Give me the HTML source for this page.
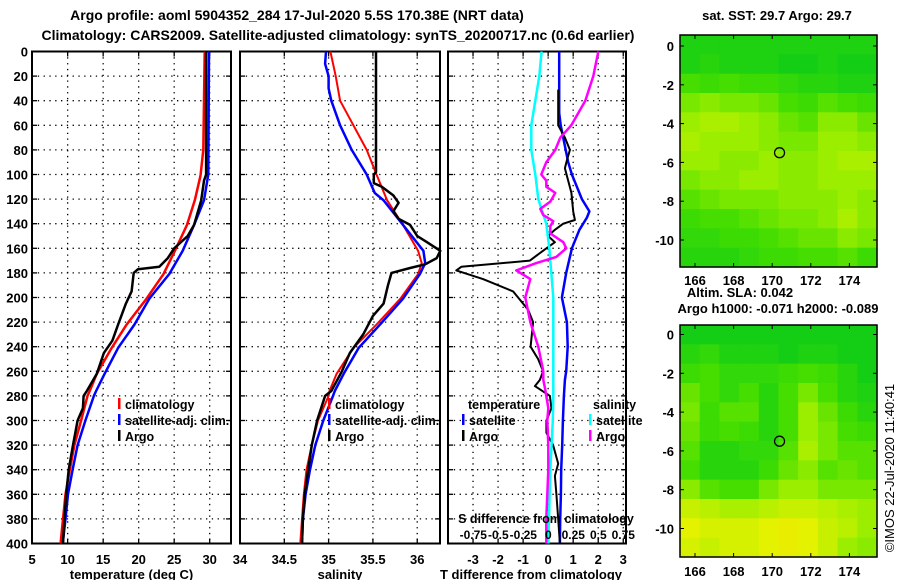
<!DOCTYPE html>
<html><head><meta charset="utf-8"><style>
html,body{margin:0;padding:0;background:#fff;}
svg{display:block;font-family:"Liberation Sans",sans-serif;font-weight:bold;font-size:13px;}
.lg{font-size:12.5px;}
</style></head><body>
<svg id="fig" width="900" height="580" viewBox="0 0 900 580">
<text x="297" y="20" text-anchor="middle" font-size="14">Argo profile: aoml 5904352_284 17-Jul-2020 5.5S 170.38E (NRT data)</text>
<text x="338" y="40" text-anchor="middle" font-size="14">Climatology: CARS2009. Satellite-adjusted climatology: synTS_20200717.nc (0.6d earlier)</text>
<text x="777" y="20" text-anchor="middle">sat. SST: 29.7 Argo: 29.7</text>
<text x="740" y="297" text-anchor="middle">Altim. SLA: 0.042</text>
<text x="778" y="313" text-anchor="middle">Argo h1000: -0.071 h2000: -0.089</text>
<text transform="translate(894,468) rotate(-90)" text-anchor="middle" font-weight="normal" font-size="13">©IMOS 22-Jul-2020 11:40:41</text>
<g id="layer"></g>
</svg>
<script>
// ---- depth axis
const depthTicks = [0,20,40,60,80,100,120,140,160,180,200,220,240,260,280,300,320,340,360,380,400];
// ---- temperature profiles (depth, value)
const tClimDepth = [0,80,101,121,141,162,181,201,222,241,262,276,280,300,320,340,360,380,400];
const tClimVal   = [29.3,29.1,28.7,27.9,26.8,25.1,23.5,21.1,18.3,16.2,14.1,13.1,12.8,11.9,10.95,10.3,9.7,9.35,9.0];
const tSatDepth  = [0,100,121,141,162,181,201,222,241,262,276,280,300,320,340,360,380,400];
const tSatVal    = [29.9,29.8,29.2,27.8,26.2,24.3,21.5,19.4,17.1,15.2,14.0,13.7,12.5,11.4,10.7,10.05,9.7,9.3];
const tArgoDepth = [0,100,105,121,141,150,160,168,175,177,180,195,205,222,235,245,262,276,280,290,300,320,340,360,380,400];
const tArgoVal   = [29.5,29.5,29.2,28.8,27.8,26.9,25.0,24.1,22.9,19.9,19.3,19.0,18.2,17.1,16.3,15.1,14.1,12.7,12.25,12.15,11.4,10.75,10.15,9.8,9.55,9.35];
const tTicks = [5,10,15,20,25,30];
// ---- salinity profiles
const sClimDepth = [0,20,40,60,80,100,121,141,162,172,181,201,222,241,262,276,280,300,320,340,360,380,400];
const sClimVal   = [35.02,35.08,35.13,35.28,35.43,35.54,35.66,35.84,36.01,36.05,36.01,35.81,35.54,35.28,35.09,35.01,35.0,34.88,34.81,34.75,34.72,34.70,34.68];
const sSatDepth  = [0,10,20,30,40,60,80,100,115,121,141,162,172,181,201,222,241,262,276,280,300,320,340,360,380,400];
const sSatVal    = [34.97,34.96,35.0,35.0,35.03,35.13,35.26,35.43,35.52,35.62,35.84,36.07,36.09,36.03,35.84,35.58,35.34,35.17,35.07,35.05,34.94,34.85,34.79,34.74,34.71,34.70];
const sArgoDepth = [0,98,100,107,110,117,123,130,136,141,150,155,162,168,173,176,180,190,205,215,230,245,260,276,280,300,320,340,360,380,400];
const sArgoVal   = [35.535,35.535,35.51,35.51,35.6,35.73,35.79,35.73,35.79,35.92,36.0,36.11,36.26,36.22,36.09,35.92,35.71,35.67,35.62,35.5,35.39,35.24,35.15,35.03,34.96,34.87,34.81,34.77,34.73,34.71,34.70];
const sTicks = [34,34.5,35,35.5,36];
// ---- difference panel
const dTSatDepth = [0,50,60,70,80,90,100,110,120,130,135,145,160,180,200,220,240,260,267,280,300,320,340,360,380,400];
const dTSatVal   = [0.44,0.44,0.5,0.6,0.7,0.8,0.95,1.15,1.35,1.65,1.55,1.25,0.95,0.72,0.55,0.75,0.78,0.72,0.67,0.63,0.59,0.56,0.52,0.51,0.48,0.47];
const dTArgoDepth = [31,60,70,80,90,95,105,115,130,137,140,145,150,155,160,165,170,175,178,185,195,200,210,220,240,250,260,267,272,280,290,300,310,320,335,345,360,380,400];
const dTArgoVal   = [0.4,0.4,0.67,0.87,0.73,0.67,0.8,0.93,1.0,1.07,0.6,0.27,0.0,0.27,-0.07,-0.4,-0.73,-3.47,-3.67,-2.6,-1.4,-1.2,-0.8,-0.6,-0.7,-0.4,-0.2,-0.33,-0.53,0.07,0.13,-0.07,-0.07,0.2,0.4,0.27,0.33,0.4,0.47];
const dSSatDepth = [0,20,40,60,80,100,120,140,160,180,200,267,280,300,340,400];
const dSSatVal   = [-0.067,-0.09,-0.13,-0.17,-0.17,-0.13,-0.1,-0.02,0.01,0.03,0.05,0.05,0.05,0.045,0.02,0.0];
const dSArgoDepth = [0,20,40,60,70,80,90,100,105,110,115,122,128,133,138,142,148,155,160,167,172,178,185,200,220,240,260,267,275,290,300,320,340,360,380,400];
const dSArgoVal   = [0.5,0.45,0.37,0.23,0.12,0.07,-0.02,-0.07,-0.02,-0.02,0.07,0.02,-0.08,-0.05,0.05,0.02,0.02,0.15,0.18,0.08,-0.12,-0.32,-0.18,-0.23,-0.18,-0.1,-0.05,-0.05,-0.03,0.0,-0.01,0.0,0.0,-0.01,-0.02,-0.02];
const dTTicks = [-3,-2,-1,0,1,2,3];
const dSTicks = [-0.75,-0.5,-0.25,0,0.25,0.5,0.75];
const dSTickLabels = ["-0.75","-0.5","-0.25","0","0.25","0.5","0.75"];
// ---- maps
const lonTicks = [166,168,170,172,174];
const latTicks = [0,-2,-4,-6,-8,-10];
const argoLon = [170.38];
const argoLat = [-5.5];
const sstGrid = [
[.15,.15,.15,.15,.15,.15,.15,.15,.15,.15],
[.15,.2,.15,.15,.15,.1,.1,.15,.1,.1],
[.35,.3,.35,.3,.3,.25,.2,.2,.15,.15],
[.5,.55,.5,.5,.45,.35,.3,.4,.35,.3],
[.6,.65,.65,.6,.55,.45,.4,.55,.55,.45],
[.65,.6,.6,.6,.55,.5,.5,.6,.6,.55],
[.6,.6,.55,.55,.6,.55,.55,.6,.65,.65],
[.5,.55,.55,.6,.6,.55,.55,.6,.6,.6],
[.4,.45,.5,.5,.5,.55,.55,.55,.6,.55],
[.3,.35,.35,.4,.45,.5,.5,.55,.65,.55],
[.25,.25,.3,.3,.35,.4,.45,.45,.55,.5],
[.2,.2,.2,.25,.3,.3,.35,.35,.4,.3]];
const slaGrid = [
[.1,.1,.1,.1,.1,.1,.1,.1,.1,.1],
[.2,.25,.15,.15,.15,.1,.15,.15,.1,.1],
[.3,.35,.25,.25,.25,.3,.35,.3,.2,.1],
[.45,.35,.25,.35,.2,.35,.5,.35,.2,.15],
[.5,.3,.4,.4,.2,.35,.6,.45,.3,.2],
[.45,.3,.35,.3,.2,.35,.6,.5,.35,.3],
[.4,.2,.2,.25,.25,.4,.65,.5,.4,.4],
[.35,.2,.2,.2,.3,.45,.55,.4,.45,.4],
[.55,.4,.35,.35,.5,.6,.6,.5,.5,.5],
[.75,.7,.65,.65,.7,.75,.75,.7,.65,.6],
[.85,.8,.8,.8,.85,.9,.85,.75,.7,.6],
[.8,.75,.8,.8,.85,.9,.85,.75,.6,.55]];

const NS='http://www.w3.org/2000/svg';
const layer=document.getElementById('layer');
function mk(tag,attrs,parent){const e=document.createElementNS(NS,tag);for(const k in attrs)e.setAttribute(k,attrs[k]);(parent||layer).appendChild(e);return e;}
function txt(x,y,s,anchor,parent){const t=mk('text',{x:x,y:y,'text-anchor':anchor||'middle'},parent);t.textContent=s;return t;}

const PY0=51.5, PY1=543.5;
const yD=d=>PY0+(PY1-PY0)*d/400;

function panel(name,x0,x1,vmin,vmax,xticks,xlabels,title,yLabels){
  const g=mk('g',{});
  
  
  const xs=v=>x0+(x1-x0)*(v-vmin)/(vmax-vmin);
  depthTicks.forEach(d=>{
    if(d>0&&d<400){const l=mk('line',{x1:x0,x2:x1,y1:yD(d),y2:yD(d),stroke:'#000','stroke-dasharray':'1.3,4.5','stroke-width':1.3},g);
    
    }
    mk('line',{x1:x0,x2:x0+5,y1:yD(d),y2:yD(d),stroke:'#000','stroke-width':1.3},g);
    mk('line',{x1:x1-5,x2:x1,y1:yD(d),y2:yD(d),stroke:'#000','stroke-width':1.3},g);
    if(yLabels){const t=txt(x0-4,yD(d)+5,String(d),'end',g);
    
    }
  });
  xticks.forEach((v,i)=>{
    const x=xs(v);
    if(x>x0+1&&x<x1-1){const l=mk('line',{x1:x,x2:x,y1:PY0,y2:PY1,stroke:'#000','stroke-dasharray':'1.3,4.5','stroke-width':1.3},g);
    
    }
    mk('line',{x1:x,x2:x,y1:PY1-5,y2:PY1,stroke:'#000','stroke-width':1.3},g);
    mk('line',{x1:x,x2:x,y1:PY0,y2:PY0+5,stroke:'#000','stroke-width':1.3},g);
    const t=txt(x,564,xlabels[i],'middle',g);
    
    
  });
  const b=mk('rect',{x:x0,y:PY0,width:x1-x0,height:PY1-PY0,fill:'none',stroke:'#000','stroke-width':2},g);
  
  
  const tt=txt((x0+x1)/2-(name==='difference-panel'?6:0),579,title,'middle',g);
  
  
  return xs;
}
function line(xs,dep,val,color,w,name){
  const pts=dep.map((d,i)=>xs(val[i]).toFixed(1)+','+yD(d).toFixed(1)).join(' ');
  const p=mk('polyline',{points:pts,fill:'none',stroke:color,'stroke-width':w,'stroke-linejoin':'round'});
  
  
}
function legendEntry(x,y,color,label){
  const g=mk('g',{class:'lg'});
  
  
  mk('rect',{x:x,y:y-11,width:2.5,height:11,fill:color},g);
  txt(x+7,y,label,'start',g);
}

// Panel 1: temperature
const xT=panel('temperature-panel',32,231,4.98,33.0,tTicks,tTicks.map(String),'temperature (deg C)',true);
line(xT,tClimDepth,tClimVal,'#ff0000',2.5,'temperature-climatology-line');
line(xT,tSatDepth,tSatVal,'#0000ff',2.5,'temperature-satellite-line');
line(xT,tArgoDepth,tArgoVal,'#000',2.5,'temperature-argo-line');
legendEntry(118,409,'#ff0000','climatology');
legendEntry(118,425,'#0000ff','satellite-adj. clim.');
legendEntry(118,441,'#000','Argo');

// Panel 2: salinity
const xS=panel('salinity-panel',240,440,34,36.257,sTicks,["34","34.5","35","35.5","36"],'salinity',false);
line(xS,sClimDepth,sClimVal,'#ff0000',2,'salinity-climatology-line');
line(xS,sSatDepth,sSatVal,'#0000ff',2.5,'salinity-satellite-line');
line(xS,sArgoDepth,sArgoVal,'#000',2.5,'salinity-argo-line');
legendEntry(328,409,'#ff0000','climatology');
legendEntry(328,425,'#0000ff','satellite-adj. clim.');
legendEntry(328,441,'#000','Argo');

// Panel 3: differences
const xDT=panel('difference-panel',448,626,-4.0,3.11,dTTicks,dTTicks.map(String),'T difference from climatology',false);
const xDS=v=>548.3+100*v;
line(xDT,dTSatDepth,dTSatVal,'#0000ff',2.5,'t-diff-satellite-line');
line(xDT,dTArgoDepth,dTArgoVal,'#000',2,'t-diff-argo-line');
line(xDS,dSSatDepth,dSSatVal,'#00ffff',2.5,'s-diff-satellite-line');
line(xDS,dSArgoDepth,dSArgoVal,'#ff00ff',2.5,'s-diff-argo-line');
{const t=txt(468,409,'temperature','start');t.setAttribute('class','lg');}
{const t=txt(593,409,'salinity','start');t.setAttribute('class','lg');}
legendEntry(462,425,'#0000ff','satellite');
legendEntry(462,441,'#000','Argo');
legendEntry(589,425,'#00ffff','satellite');
legendEntry(589,441,'#ff00ff','Argo');
{const t=txt(546,523,'S difference from climatology','middle');t.setAttribute('class','lg');}
dSTicks.forEach((v,i)=>{
  const t=txt(xDS(v),539,dSTickLabels[i],'middle');
  t.setAttribute('font-size','12');
  
  
});

// Maps
function col(v){
  const st=[[0,[0,200,30]],[0.35,[70,222,0]],[0.6,[155,238,0]],[0.85,[228,242,0]],[1,[242,228,0]]];
  for(let i=1;i<st.length;i++){if(v<=st[i][0]){const a=st[i-1],b=st[i],t=(v-a[0])/(b[0]-a[0]);
    return 'rgb('+a[1].map((c,k)=>Math.round(c+(b[1][k]-c)*t)).join(',')+')';}}
  return 'rgb(242,228,0)';
}
function map(name,grid,top,bottom,lat0y,lonLabelY){
  const x0=680,x1=877;
  const lonX=lo=>695+(lo-166)*19.3;
  const latY=la=>lat0y-la*19.4;
  const g=mk('g',{});
  
  
  const rows=grid.length,cols=grid[0].length,cw=(x1-x0)/cols,ch=(bottom-top)/rows;
  grid.forEach((r,i)=>r.forEach((v,j)=>{
    const c=mk('rect',{x:(x0+j*cw).toFixed(1),y:(top+i*ch).toFixed(1),width:(cw+0.6).toFixed(1),height:(ch+0.6).toFixed(1),fill:col(v)},g);
    
    
  }));
  mk('rect',{x:x0,y:top,width:x1-x0,height:bottom-top,fill:'none',stroke:'#000','stroke-width':1.5},g);
  lonTicks.forEach(lo=>{
    mk('line',{x1:lonX(lo),x2:lonX(lo),y1:top,y2:top+4,stroke:'#000'},g);
    mk('line',{x1:lonX(lo),x2:lonX(lo),y1:bottom-4,y2:bottom,stroke:'#000'},g);
    const t=txt(lonX(lo),lonLabelY,String(lo),'middle',g);
    
    
  });
  latTicks.forEach(la=>{
    mk('line',{x1:x0,x2:x0+4,y1:latY(la),y2:latY(la),stroke:'#000'},g);
    mk('line',{x1:x1-4,x2:x1,y1:latY(la),y2:latY(la),stroke:'#000'},g);
    const t=txt(674,latY(la)+5,String(la),'end',g);
    
    
  });
  argoLon.forEach((lo,i)=>{
    const c=mk('circle',{cx:lonX(lo),cy:latY(argoLat[i]),r:5,fill:'none',stroke:'#000','stroke-width':1.3},g);
    
    
  });
}
map('sst-map',sstGrid,35,267,46,285);
map('sla-map',slaGrid,325,557,334.5,576);
</script>
</body></html>
